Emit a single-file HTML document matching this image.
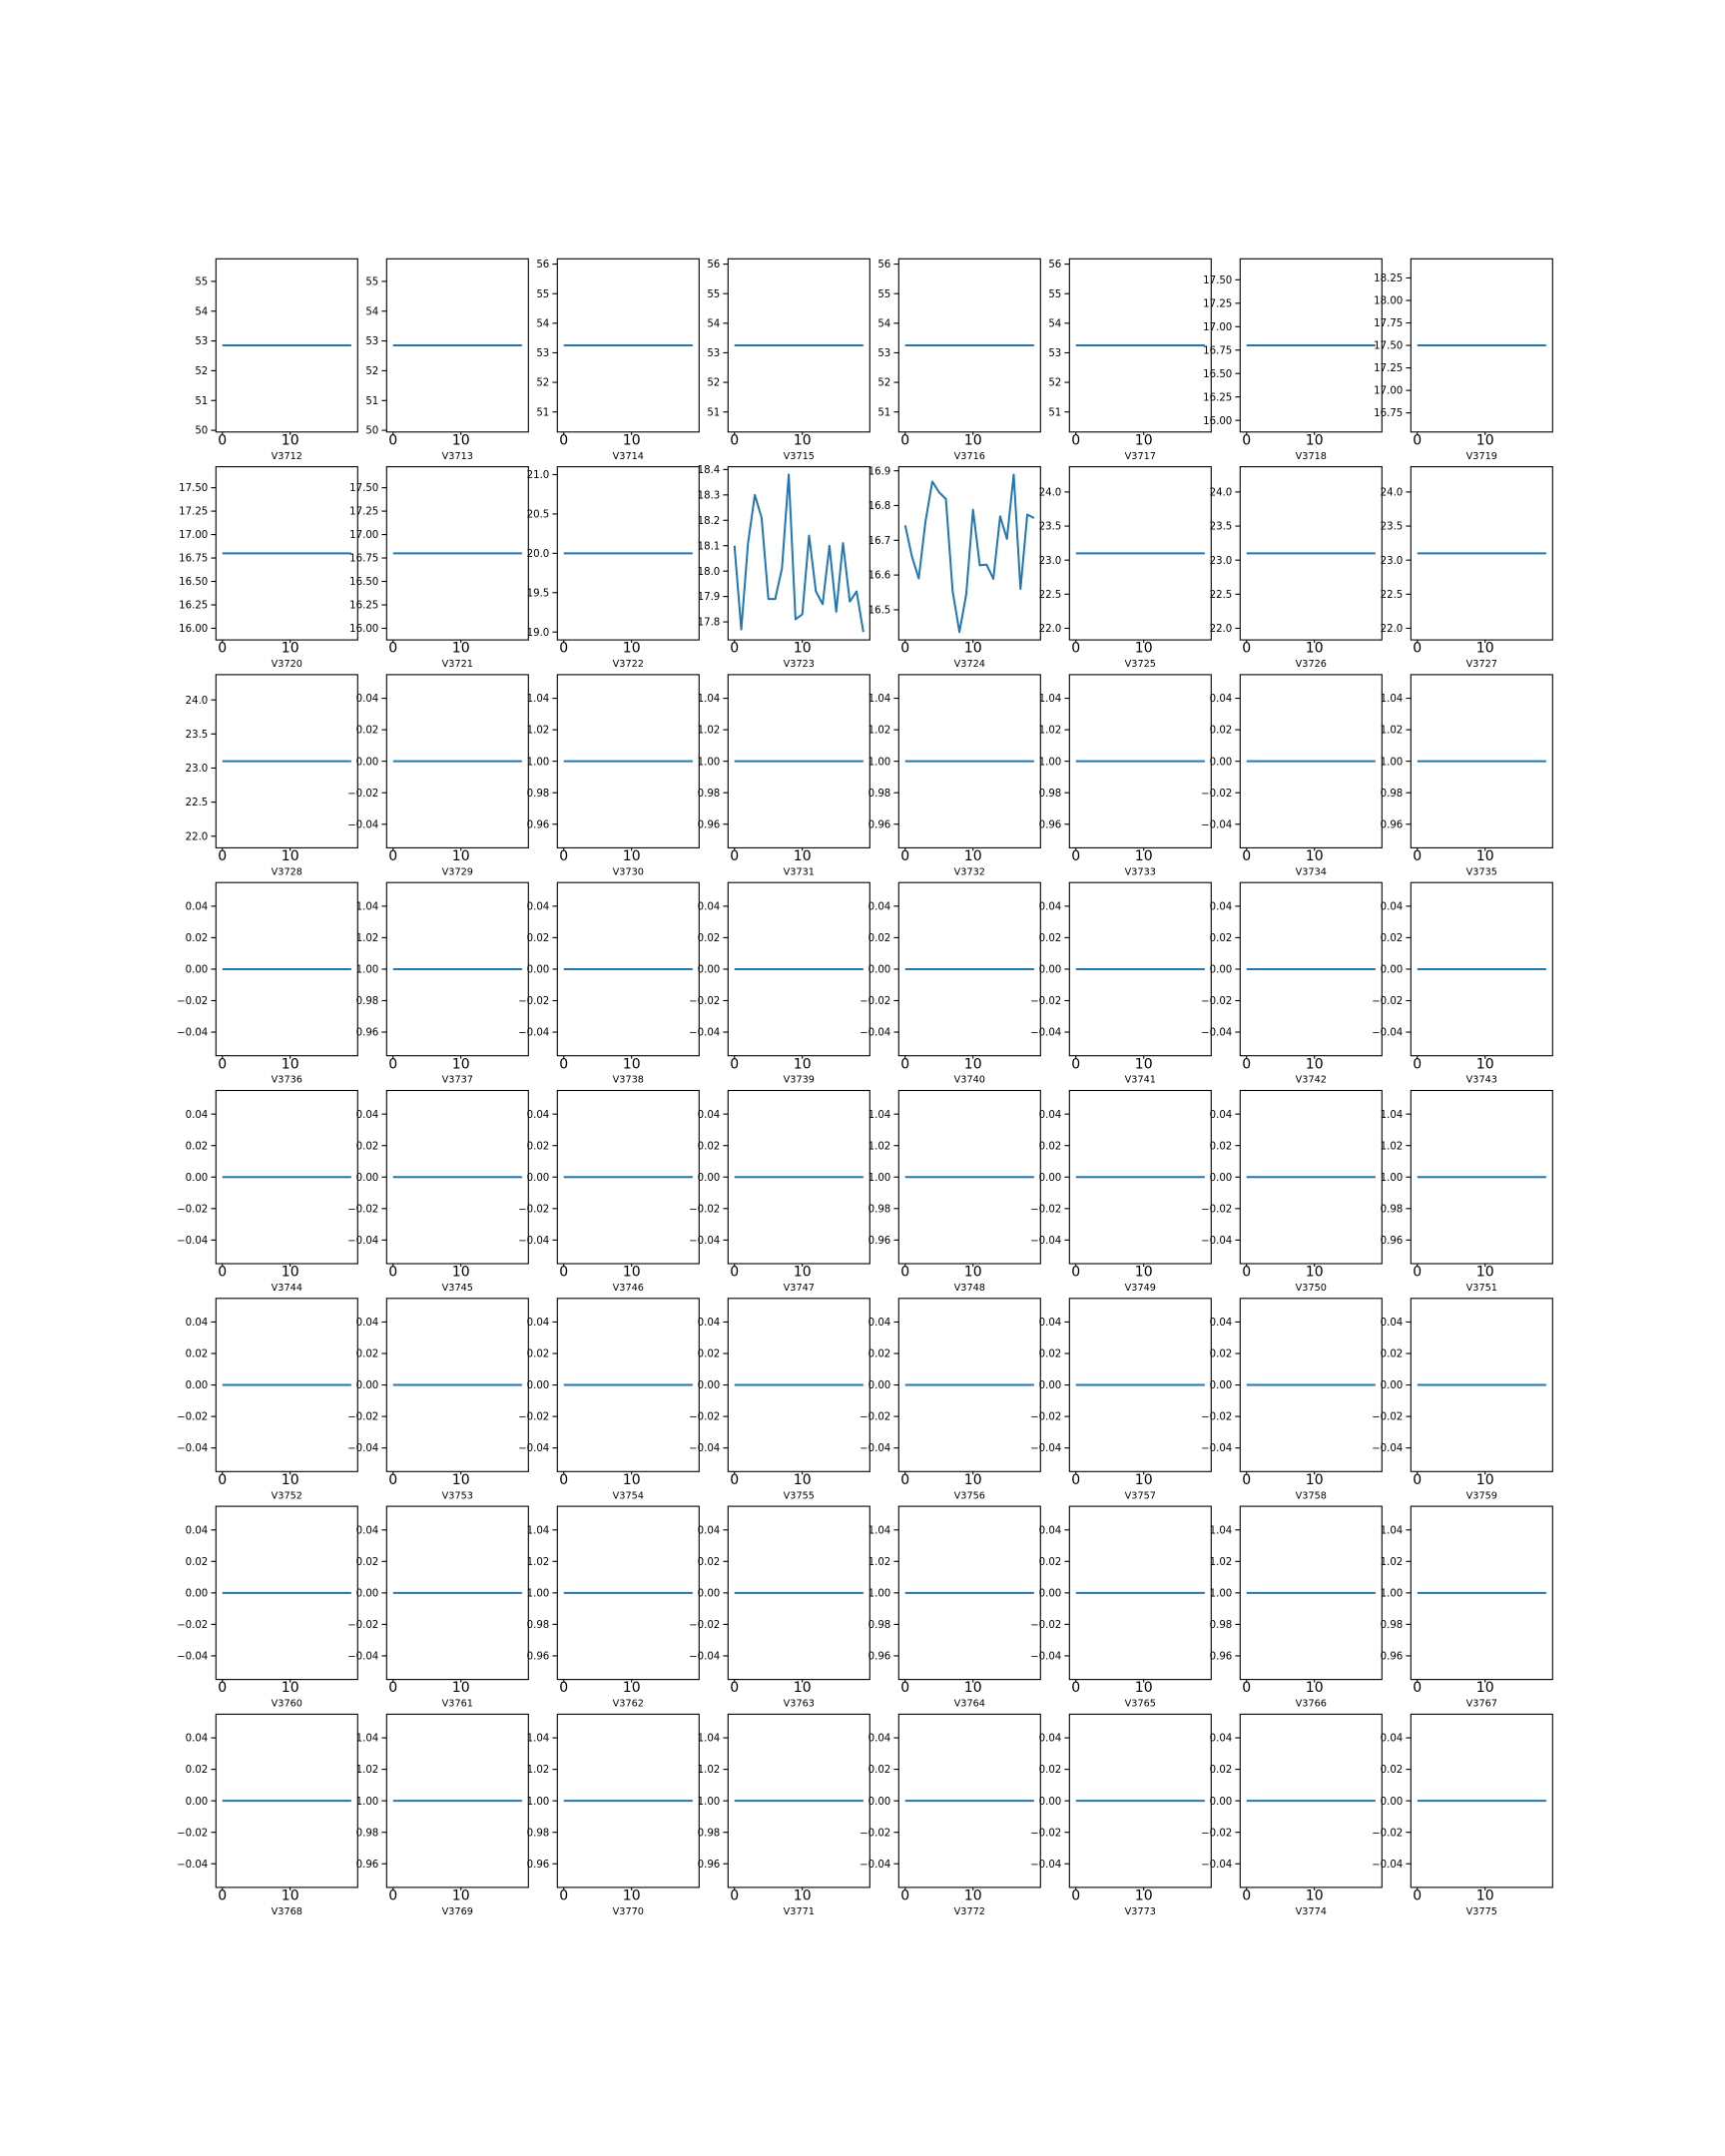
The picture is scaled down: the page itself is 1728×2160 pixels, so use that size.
<!DOCTYPE html>
<html><head><meta charset="utf-8"><style>html,body{margin:0;padding:0;background:#fff}svg{display:block}</style></head>
<body>
<svg id="fig" width="1728" height="2160" viewBox="0 0 1728 2160" xmlns="http://www.w3.org/2000/svg" font-family="DejaVu Sans, Liberation Sans, sans-serif"></svg>
<script>
const names = [];
for (let i = 3712; i <= 3775; i++) names.push('V' + i);
const constants = [
  52.85,52.85,53.25,53.25,53.25,53.25,16.8,17.5,
  16.8,16.8,20.0,null,null,23.1,23.1,23.1,
  23.1,0,1,1,1,1,0,1,
  0,1,0,0,0,0,0,0,
  0,0,0,0,1,0,0,1,
  0,0,0,0,0,0,0,0,
  0,0,1,0,1,0,1,1,
  0,1,1,1,0,0,0,0
];
const seriesV3723 = [18.10,17.77,18.11,18.30,18.21,17.89,17.89,18.01,18.38,17.81,17.83,18.14,17.92,17.87,18.10,17.84,18.11,17.88,17.92,17.76];
const seriesV3724 = [16.743,16.653,16.590,16.755,16.869,16.838,16.819,16.553,16.436,16.544,16.788,16.628,16.630,16.589,16.769,16.704,16.889,16.560,16.774,16.764];
const xTicks = [0, 10];

const NS = 'http://www.w3.org/2000/svg';
const svg = document.getElementById('fig');
function mk(tag, attrs, parent) {
  const e = document.createElementNS(NS, tag);
  for (const k in attrs) e.setAttribute(k, attrs[k]);
  parent.appendChild(e);
  return e;
}
function niceTicks(lo, hi) {
  const span = hi - lo;
  const steps = [0.01,0.02,0.025,0.05,0.1,0.2,0.25,0.5,1,2,2.5,5,10];
  let step = steps[steps.length - 1];
  for (const s of steps) { if (span / s <= 8) { step = s; break; } }
  const out = [];
  for (let t = Math.ceil(lo / step - 1e-9) * step; t <= hi + 1e-9; t += step) out.push(Math.round(t / step) * step);
  let dec = 0;
  const str = step.toString();
  if (str.indexOf('.') >= 0) dec = str.split('.')[1].length;
  return out.map(v => ({ v, label: (v < 0 ? '\u2212' : '') + Math.abs(v).toFixed(dec) }));
}

const L0 = 216.3, T0 = 259.3, W = 142, H = 173.5, PX = 171.0, PY = 208.3;
for (let i = 0; i < 64; i++) {
  const r = Math.floor(i / 8), c = i % 8;
  const left = L0 + c * PX, top = T0 + r * PY, bottom = top + H;
  let data;
  if (i === 11) data = seriesV3723;
  else if (i === 12) data = seriesV3724;
  else data = new Array(20).fill(constants[i]);
  let mn = Math.min(...data), mx = Math.max(...data), ylo, yhi;
  if (mx - mn < 1e-12) {
    const d = mn === 0 ? 0.05 : Math.abs(mn) * 0.05;
    ylo = mn - d * 1.1; yhi = mn + d * 1.1;
  } else {
    const m = (mx - mn) * 0.05; ylo = mn - m; yhi = mx + m;
  }
  const xlo = -0.95, xhi = 19.95;
  const xs = v => left + (v - xlo) / (xhi - xlo) * W;
  const ys = v => bottom - (v - ylo) / (yhi - ylo) * H;

  const g = mk('g', {}, svg);
  
  

  const line = mk('polyline', {
    points: data.map((v, k) => xs(k).toFixed(2) + ',' + ys(v).toFixed(2)).join(' '),
    fill: 'none', stroke: '#1f77b4', 'stroke-width': 2, 'stroke-linejoin': 'round'
  }, g);
  
  

  const frame = mk('rect', { x: left, y: top, width: W, height: H, fill: 'none', stroke: '#000', 'stroke-width': 1.1 }, g);
  
  

  for (const t of niceTicks(ylo, yhi)) {
    const y = ys(t.v);
    mk('line', { x1: left - 4.9, x2: left, y1: y, y2: y, stroke: '#000', 'stroke-width': 1.1 }, g);
    const tx = mk('text', { x: left - 8, y: y + 3.6, 'text-anchor': 'end', 'font-size': 10.2, fill: '#000' }, g);
    tx.textContent = t.label;
    
    
  }
  for (const t of xTicks) {
    const x = xs(t);
    mk('line', { x1: x, x2: x, y1: bottom, y2: bottom + 3, stroke: '#000', 'stroke-width': 1.1 }, g);
    const tx = mk('text', { x: x, y: bottom + 12.6, 'text-anchor': 'middle', 'font-size': 14, fill: '#000' }, g);
    tx.textContent = String(t);
    
    
  }
  const xl = mk('text', { x: left + W / 2, y: bottom + 27, 'text-anchor': 'middle', 'font-size': 9.7, fill: '#000' }, g);
  xl.textContent = names[i];
  
  
}
</script>
</body></html>
